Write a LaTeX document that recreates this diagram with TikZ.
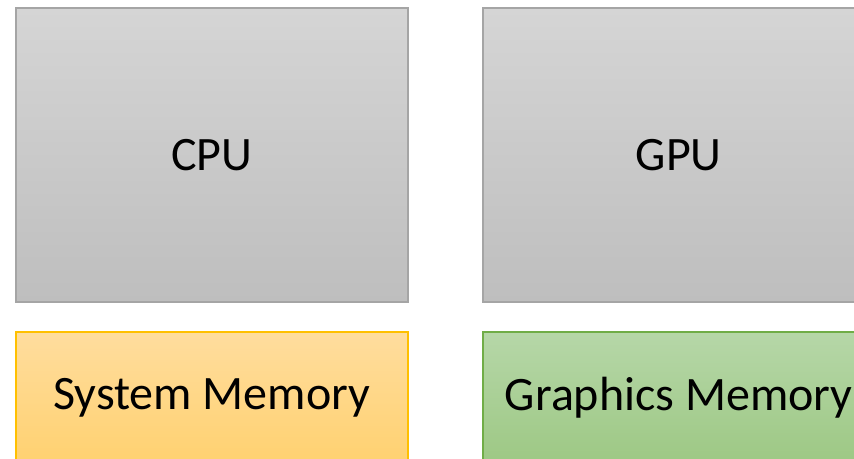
\documentclass[tikz,border=0pt]{standalone}
\usepackage{fontspec}
\setmainfont{Carlito}
\definecolor{grayT}{HTML}{D5D5D5}
\definecolor{grayB}{HTML}{BEBEBE}
\definecolor{grayL}{HTML}{A5A5A5}
\definecolor{orT}{HTML}{FFDD9E}
\definecolor{orB}{HTML}{FFD170}
\definecolor{orL}{HTML}{FFC000}
\definecolor{grT}{HTML}{B6D7A8}
\definecolor{grB}{HTML}{9DC884}
\definecolor{grL}{HTML}{70AD47}
\tikzset{
  blk/.style={draw, line width=1.5pt, minimum width=392pt, inner sep=0pt, anchor=north west,
    font=\fontsize{48}{56}\selectfont},
  proc/.style={blk, draw=grayL, top color=grayT, bottom color=grayB, minimum height=294pt},
  sysmem/.style={blk, draw=orL, top color=orT, bottom color=orB, minimum height=132pt},
  gfxmem/.style={blk, draw=grL, top color=grT, bottom color=grB, minimum height=132pt}
}
\begin{document}
\begin{tikzpicture}[x=1pt,y=-1pt]
\useasboundingbox (0,0) rectangle (854,458);
\node[proc] (cpu) at (15,7) {\raisebox{-2pt}{CPU}};
\node[proc] (gpu) at (482,7) {\raisebox{-2pt}{GPU}};
\node[sysmem] (sm) at (15,331) {\raisebox{-2pt}{System Memory}};
\node[gfxmem] (gm) at (482,331) {\raisebox{-2pt}{Graphics Memory}};
\end{tikzpicture}
\end{document}
